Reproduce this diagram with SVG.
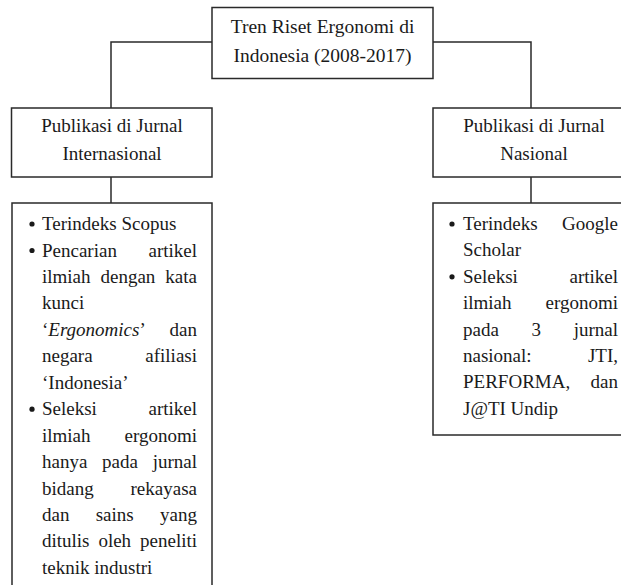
<svg xmlns="http://www.w3.org/2000/svg" width="621" height="585" viewBox="0 0 621 585">
<style>
.box{fill:#fff;stroke:#2a2a2a;stroke-width:1.5}
.ln{fill:none;stroke:#2a2a2a;stroke-width:1.5}
text{font-family:'Liberation Serif','Times New Roman',serif;fill:#1a1a1a}
.h{font-size:19px;text-anchor:middle}
.t{font-size:19.5px;text-anchor:middle}
.l{font-size:19px}
.e{text-anchor:end}
.b{fill:#1a1a1a}
</style>
<rect width="621" height="585" fill="#fff"/>
<g id="connectors">
<path class="ln" d="M212,42H111V108"/>
<path class="ln" d="M433,42H531V108"/>
<path class="ln" d="M111,177V203"/>
<path class="ln" d="M531,177V203"/>
</g>
<g id="root">
<rect class="box" x="212" y="7.5" width="221" height="71"/>
<text class="t" x="322.5" y="33">Tren Riset Ergonomi di</text>
<text class="t" x="322.5" y="62">Indonesia (2008-2017)</text>
</g>
<g id="intl">
<rect class="box" x="11.5" y="108" width="200.5" height="69"/>
<text class="h" x="112" y="132">Publikasi di Jurnal</text>
<text class="h" x="112" y="160">Internasional</text>
</g>
<g id="nas">
<rect class="box" x="433" y="108" width="210" height="69"/>
<text class="h" x="534" y="132">Publikasi di Jurnal</text>
<text class="h" x="534" y="160">Nasional</text>
</g>
<g id="intl-list">
<rect class="box" x="12" y="203" width="200" height="400"/>
<circle class="b" cx="32" cy="224" r="2.6"/>
<circle class="b" cx="32" cy="250.5" r="2.6"/>
<circle class="b" cx="32" cy="409.2" r="2.6"/>
<text class="l" x="42" y="230">Terindeks Scopus</text>
<text class="l" x="42" y="256.5">Pencarian</text><text class="l e" x="197" y="256.5">artikel</text>
<text class="l" x="42" y="282.9">ilmiah</text><text class="l" x="100.5" y="282.9">dengan</text><text class="l e" x="197" y="282.9">kata</text>
<text class="l" x="42" y="309.4">kunci</text>
<text class="l" x="42" y="335.8">‘<tspan font-style="italic">Ergonomics</tspan>’</text><text class="l e" x="197" y="335.8">dan</text>
<text class="l" x="42" y="362.3">negara</text><text class="l e" x="197" y="362.3">afiliasi</text>
<text class="l" x="42" y="388.7">‘Indonesia’</text>
<text class="l" x="42" y="415.2">Seleksi</text><text class="l e" x="197" y="415.2">artikel</text>
<text class="l" x="42" y="441.6">ilmiah</text><text class="l e" x="197" y="441.6">ergonomi</text>
<text class="l" x="42" y="468.1">hanya</text><text class="l" x="102.1" y="468.1">pada</text><text class="l e" x="197" y="468.1">jurnal</text>
<text class="l" x="42" y="494.5">bidang</text><text class="l e" x="197" y="494.5">rekayasa</text>
<text class="l" x="42" y="521">dan</text><text class="l" x="95.7" y="521">sains</text><text class="l e" x="197" y="521">yang</text>
<text class="l" x="42" y="547.4">ditulis</text><text class="l" x="98.4" y="547.4">oleh</text><text class="l e" x="197" y="547.4">peneliti</text>
<text class="l" x="42" y="574">teknik industri</text>
</g>
<g id="nas-list">
<rect class="box" x="433" y="203" width="210" height="232"/>
<circle class="b" cx="452" cy="224" r="2.6"/>
<circle class="b" cx="452" cy="276.8" r="2.6"/>
<text class="l" x="463" y="230">Terindeks</text><text class="l e" x="618" y="230">Google</text>
<text class="l" x="463" y="256.4">Scholar</text>
<text class="l" x="463" y="282.8">Seleksi</text><text class="l e" x="618" y="282.8">artikel</text>
<text class="l" x="463" y="309.2">ilmiah</text><text class="l e" x="618" y="309.2">ergonomi</text>
<text class="l" x="463" y="335.6">pada</text><text class="l" x="531.5" y="335.6">3</text><text class="l e" x="618" y="335.6">jurnal</text>
<text class="l" x="463" y="362">nasional:</text><text class="l e" x="618" y="362">JTI,</text>
<text class="l" x="463" y="388.4">PERFORMA,</text><text class="l e" x="618" y="388.4">dan</text>
<text class="l" x="463" y="414.8">J@TI Undip</text>
</g>
</svg>
